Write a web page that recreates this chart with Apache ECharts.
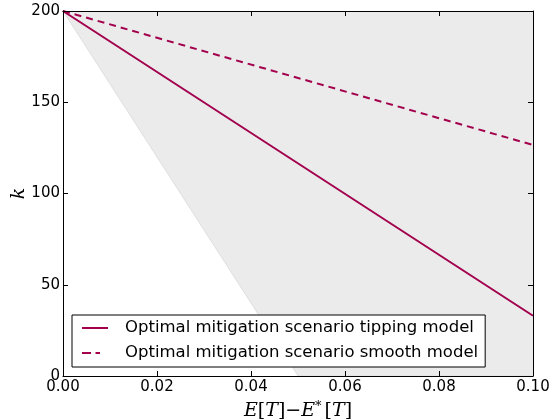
<!DOCTYPE html>
<html><head><meta charset="utf-8">
<script src="https://cdn.jsdelivr.net/npm/echarts@6/dist/echarts.min.js"></script>
<style>html,body{margin:0;padding:0;background:#fff}#c{width:553px;height:419px}</style>
</head><body><div id="c"></div>
<script>
const xTicks = [0, 0.02, 0.04, 0.06, 0.08, 0.1];
const yTicks = [0, 50, 100, 150, 200];
const shadedBoundary = [[0, 200], [0.05, 0], [0.1, 0]];
const tippingLine = [[0, 200], [0.1, 33]];
const smoothLine = [[0, 200], [0.1, 126.6]];
const seriesNames = ['Optimal mitigation scenario tipping model', 'Optimal mitigation scenario smooth model'];
const lineColor = '#a2004c';

const chart = echarts.init(document.getElementById('c'), null, {renderer: 'canvas'});
const font = 'DejaVu Sans';
const axisCommon = {
  type: 'value', z: 10,
  axisLine: {show: true, onZero: false, lineStyle: {color: '#000', width: 1}},
  axisTick: {show: true, inside: true, length: 5, lineStyle: {color: '#000'}},
  splitLine: {show: false},
};
chart.setOption({
  animation: false,
  grid: {left: 63, right: 20, top: 11, bottom: 43, containLabel: false, outerBoundsMode: 'none'},
  xAxis: [
    Object.assign({}, axisCommon, {
      min: 0, max: 0.1, interval: 0.02, position: 'bottom',
      axisLabel: {color: '#000', fontSize: 15, fontFamily: font, margin: 4,
        formatter: v => v.toFixed(2)},
      name: '{i|E}{n|[}{i|T}{n|]−}{i|E}{s|*}{n|[}{i|T}{n|]}',
      nameLocation: 'middle', nameGap: 21,
      nameTextStyle: {
        rich: {
          i: {fontFamily: 'DejaVu Serif', fontStyle: 'italic', fontSize: 19, color: '#000'},
          n: {fontFamily: 'DejaVu Serif', fontSize: 19, color: '#000'},
          s: {fontFamily: 'DejaVu Serif', fontSize: 13, color: '#000', padding: [0, 3, 9, 0]}
        }
      }
    }),
    Object.assign({}, axisCommon, {
      min: 0, max: 0.1, interval: 0.02, position: 'top', axisLabel: {show: false}
    })
  ],
  yAxis: [
    Object.assign({}, axisCommon, {
      min: 0, max: 200, interval: 50, position: 'left',
      axisLabel: {color: '#000', fontSize: 15, fontFamily: font, margin: 3},
      name: 'k', nameLocation: 'middle', nameGap: 34, nameRotate: 90, nameMoveOverlap: false,
      nameTextStyle: {fontFamily: 'DejaVu Serif', fontStyle: 'italic', fontSize: 19, color: '#000'}
    }),
    Object.assign({}, axisCommon, {
      min: 0, max: 200, interval: 50, position: 'right', axisLabel: {show: false}
    })
  ],
  legend: {
    left: 72, top: 315, orient: 'vertical',
    backgroundColor: '#fff', borderColor: '#000', borderWidth: 1, borderRadius: 0,
    padding: [3, 7, 4, 10], itemGap: 5, itemWidth: 26, itemHeight: 2,
    itemStyle: {borderWidth: 0},
    data: [
      {name: seriesNames[0], icon: 'path://M0,0h26v2h-26z'},
      {name: seriesNames[1], icon: 'path://M0,0h9v2h-9zM13.5,0h4.5v2h-4.5zM26,2'}
    ],
    textStyle: {color: '#000', fontSize: 16.5, lineHeight: 20, fontFamily: font, padding: [0, 0, 0, 12]}
  },
  series: [
    {
      type: 'line', name: 'feasible', data: shadedBoundary, symbol: 'none',
      lineStyle: {color: '#d9d9d9', width: 0.8},
      areaStyle: {color: '#ebebeb', opacity: 1, origin: 'end'},
      silent: true, z: 1
    },
    {
      type: 'line', name: seriesNames[0], data: tippingLine, symbol: 'none',
      lineStyle: {color: lineColor, width: 2}, itemStyle: {color: lineColor}, z: 3
    },
    {
      type: 'line', name: seriesNames[1], data: smoothLine, symbol: 'none',
      lineStyle: {color: lineColor, width: 2, type: [7, 5]}, itemStyle: {color: lineColor}, z: 3
    }
  ]
});
</script></body></html>
